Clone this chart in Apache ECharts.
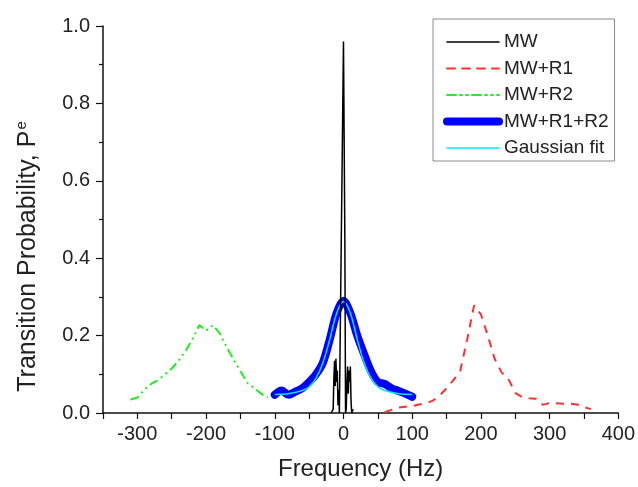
<!DOCTYPE html>
<html>
<head>
<meta charset="utf-8">
<script src="https://cdn.jsdelivr.net/npm/echarts@6/dist/echarts.min.js"></script>
<style>
html,body{margin:0;padding:0;background:#fff;}
#c{width:638px;height:487px;}
</style>
</head>
<body>
<div id="c"></div>
<script>
// ---- data ----
var mwFreq   = [-18, -15, -14, -13, -12, -11, -10, -9, -8, -7, -6, -3, 0, 2, 3, 4, 5, 6, 7, 8, 9, 10, 11, 12, 14];
var mwProb   = [0.0, 0.01, 0.09, 0.135, 0.07, 0.14, 0.08, 0.11, 0.02, 0.06, 0.0, 0.48, 0.96, 0.45, 0.0, 0.01, 0.08, 0.12, 0.05, 0.11, 0.08, 0.12, 0.03, 0.0, 0.01];

var r1Freq   = [60, 70, 80, 90, 100, 110, 120, 130, 140, 150, 160, 170, 180, 190, 200, 210, 220, 230, 240, 250, 260, 270, 280, 290, 300, 310, 320, 330, 340, 350, 360];
var r1Prob   = [0.002, 0.008, 0.014, 0.016, 0.018, 0.022, 0.025, 0.032, 0.045, 0.064, 0.085, 0.11, 0.19, 0.278, 0.255, 0.2, 0.14, 0.105, 0.088, 0.052, 0.041, 0.038, 0.037, 0.021, 0.026, 0.025, 0.024, 0.024, 0.022, 0.015, 0.01];

var r2Freq   = [-310, -300, -290, -280, -270, -260, -250, -240, -230, -220, -210, -200, -190, -180, -170, -160, -150, -140, -130, -120, -110];
var r2Prob   = [0.035, 0.04, 0.06, 0.075, 0.085, 0.1, 0.115, 0.135, 0.16, 0.19, 0.227, 0.213, 0.227, 0.205, 0.17, 0.138, 0.108, 0.078, 0.064, 0.05, 0.04];

var r12Freq  = [-100, -90, -80, -70, -60, -50, -40, -30, -20, -10, 0, 10, 20, 30, 40, 50, 60, 70, 80, 90, 100];
var r12Prob  = [0.047, 0.058, 0.047, 0.055, 0.064, 0.08, 0.1, 0.13, 0.19, 0.258, 0.29, 0.258, 0.2, 0.152, 0.108, 0.08, 0.075, 0.064, 0.057, 0.05, 0.042];

var fitFreq  = [-100, -80, -60, -50, -40, -30, -20, -10, 0, 10, 20, 30, 40, 50, 60, 80, 100];
var fitProb  = [0.048, 0.05, 0.058, 0.068, 0.09, 0.13, 0.19, 0.258, 0.288, 0.258, 0.19, 0.13, 0.09, 0.068, 0.058, 0.05, 0.048];

var seriesNames = ['MW', 'MW+R1', 'MW+R2', 'MW+R1+R2', 'Gaussian fit'];
var xTickLabels = ['-300', '-200', '-100', '0', '100', '200', '300', '400'];
var yTickLabels = ['0.0', '0.2', '0.4', '0.6', '0.8', '1.0'];

function pairs(xs, ys){ return xs.map(function(x,i){ return [x, ys[i]]; }); }

var FONT = 'Liberation Sans, Arial, sans-serif';
var TXT = '#222';

var chart = echarts.init(document.getElementById('c'), null, {renderer:'canvas'});
chart.setOption({
  animation: false,
  backgroundColor: '#fff',
  textStyle: {fontFamily: FONT},
  grid: {left: 103, right: 14, top: 26, bottom: 74, containLabel: false},
  legend: {
    orient: 'vertical',
    left: 433, top: 19,
    padding: [13, 6, 3, 10],
    borderColor: '#8a8a8a', borderWidth: 1,
    itemWidth: 52, itemHeight: 14, itemGap: 6.5, itemTextGap: 2,
    itemStyle: {opacity: 0, borderWidth: 0},
    lineStyle: {width: 'inherit', type: 'inherit', cap: 'round'},
    textStyle: {fontFamily: FONT, fontSize: 19, color: TXT, lineHeight: 20},
    data: seriesNames
  },
  xAxis: {
    type: 'value', min: -350, max: 400, interval: 50,
    name: 'Frequency (Hz)', nameLocation: 'middle', nameGap: 44,
    nameTextStyle: {fontFamily: FONT, fontSize: 24, color: TXT},
    axisLine: {show: true, onZero: false, lineStyle: {color: '#111', width: 1.5}},
    axisTick: {show: true, inside: false, length: 6, lineStyle: {color: '#111', width: 1.2}},
    axisLabel: {
      fontFamily: FONT, fontSize: 20, color: TXT, margin: 11, showMinLabel: true, showMaxLabel: true,
      formatter: function(v){ var s = String(Math.round(v)); return xTickLabels.indexOf(s) >= 0 ? s : ''; }
    },
    splitLine: {show: false}
  },
  yAxis: {
    type: 'value', min: 0, max: 1, interval: 0.2,
    name: '{a|Transition Probability, P}{b|e}', nameLocation: 'middle', nameGap: 62, nameRotate: 90,
    nameTextStyle: {
      fontFamily: FONT, fontSize: 25, color: TXT, padding: [0, 74, 0, 0],
      rich: {
        a: {fontFamily: FONT, fontSize: 25, color: TXT, lineHeight: 30, verticalAlign: 'bottom'},
        b: {fontFamily: FONT, fontSize: 15, color: TXT, lineHeight: 30, verticalAlign: 'bottom', padding: [0, 0, 12, 1]}
      }
    },
    axisLine: {show: true, onZero: false, lineStyle: {color: '#111', width: 1.5}},
    axisTick: {show: true, inside: false, length: 7, lineStyle: {color: '#111', width: 1.2}},
    minorTick: {show: true, splitNumber: 2, length: 4, lineStyle: {color: '#111', width: 1.2}},
    axisLabel: {
      fontFamily: FONT, fontSize: 20, color: TXT, margin: 13,
      formatter: function(v){ var s = v.toFixed(1); return yTickLabels.indexOf(s) >= 0 ? s : ''; }
    },
    splitLine: {show: false}
  },
  series: [
    {name: seriesNames[0], type: 'line', data: pairs(mwFreq, mwProb), symbol: 'none', z: 5,
     lineStyle: {color: '#000', width: 1.5}, itemStyle: {color: '#000'}},
    {name: seriesNames[1], type: 'line', data: pairs(r1Freq, r1Prob), symbol: 'none', z: 2,
     lineStyle: {color: '#ff3030', width: 2, type: [8, 7]}, itemStyle: {color: '#ff3030'}},
    {name: seriesNames[2], type: 'line', data: pairs(r2Freq, r2Prob), symbol: 'none', z: 2,
     lineStyle: {color: '#22ee22', width: 2, type: [9, 4, 2, 4, 2, 4]}, itemStyle: {color: '#22ee22'}},
    {name: seriesNames[3], type: 'line', data: pairs(r12Freq, r12Prob), symbol: 'none', z: 3, smooth: 0.3,
     lineStyle: {color: '#0000ff', width: 8, cap: 'round', join: 'round'}, itemStyle: {color: '#0000ff'}},
    {name: seriesNames[4], type: 'line', data: pairs(fitFreq, fitProb), symbol: 'none', z: 4, smooth: 0.4,
     lineStyle: {color: '#00e8ff', width: 1.5}, itemStyle: {color: '#00e8ff'}}
  ]
});
</script>
</body>
</html>
